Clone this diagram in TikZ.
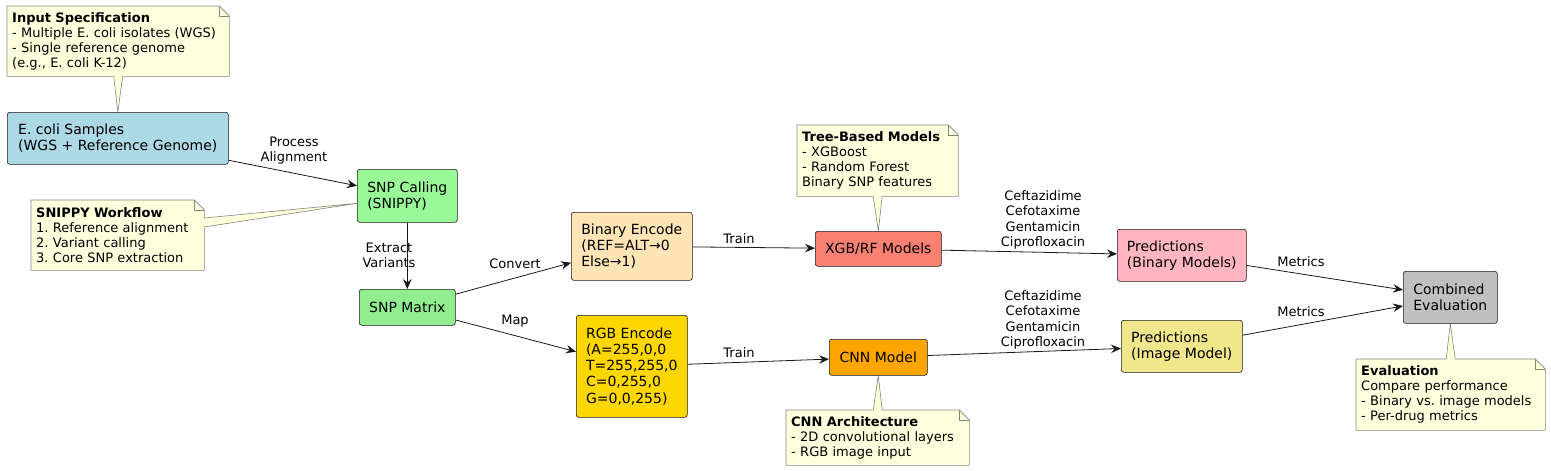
\documentclass[tikz,border=0pt]{standalone}
\usepackage{fontspec}
\setmainfont{DejaVu Sans}
\usetikzlibrary{arrows.meta,backgrounds}
\frenchspacing

\definecolor{linec}{HTML}{181818}
\definecolor{notefill}{HTML}{FEFFDD}
\definecolor{notedraw}{HTML}{85857A}
\definecolor{boxblue}{HTML}{ADD8E6}
\definecolor{boxpalegreen}{HTML}{98FB98}
\definecolor{boxgreen}{HTML}{90EE90}
\definecolor{boxmoccasin}{HTML}{FFE4B5}
\definecolor{boxsalmon}{HTML}{FA8072}
\definecolor{boxgold}{HTML}{FFD700}
\definecolor{boxorange}{HTML}{FFA500}
\definecolor{boxpink}{HTML}{FFB6C1}
\definecolor{boxkhaki}{HTML}{F0E68C}
\definecolor{boxsilver}{HTML}{C0C0C0}

\tikzset{
  box/.style={draw=linec, line width=0.6pt, rounded corners=2.5pt, align=left,
    anchor=north west, inner sep=0pt, font=\fontsize{14}{16.3}\selectfont},
  notebox/.style={anchor=north west, align=left, inner xsep=5pt, inner ysep=0pt,
    font=\fontsize{13}{15}\selectfont},
  noteshape/.style={draw=notedraw, fill=notefill, line width=0.6pt},
  lbl/.style={align=center, inner sep=0pt, font=\fontsize{13}{15.2}\selectfont},
  flow/.style={draw=linec, line width=0.8pt, -{Stealth[length=10pt,width=8.5pt,inset=3.5pt]}}
}

\begin{document}
\begin{tikzpicture}[x=1pt, y=-1pt]
  \useasboundingbox (0,0) rectangle (1551,471);

  % process boxes
  \node[box, fill=boxblue, minimum width=221pt, minimum height=52pt] (ecoli) at (7,112) {E. coli Samples\\(WGS + Reference Genome)};
  \node[box, fill=boxpalegreen, minimum width=100pt, minimum height=53pt] (snpcall) at (357,169) {SNP Calling\\(SNIPPY)};
  \node[box, fill=boxgreen, minimum width=96pt, minimum height=36pt] (snpmat) at (359,289) {SNP Matrix};
  \node[box, fill=boxmoccasin, minimum width=121pt, minimum height=68pt] (binenc) at (571,212) {Binary Encode\\(REF=ALT→0\\Else→1)};
  \node[box, fill=boxgold, minimum width=111pt, minimum height=102pt] (rgbenc) at (576,315) {RGB Encode\\(A=255,0,0\\T=255,255,0\\C=0,255,0\\G=0,0,255)};
  \node[box, fill=boxsalmon, minimum width=126pt, minimum height=35pt] (xgb) at (815,231) {XGB/RF Models};
  \node[box, fill=boxorange, minimum width=98pt, minimum height=36pt] (cnn) at (829,339) {CNN Model};
  \node[box, fill=boxpink, minimum width=129pt, minimum height=52pt] (predbin) at (1117,229) {Predictions\\(Binary Models)};
  \node[box, fill=boxkhaki, minimum width=121pt, minimum height=52pt] (predimg) at (1121,320) {Predictions\\(Image Model)};
  \node[box, fill=boxsilver, minimum width=94pt, minimum height=52pt] (combined) at (1403,271) {Combined\\Evaluation};

  % notes
  \node[notebox, text width=212pt, minimum height=70pt] (inspec) at (7,6) {\textbf{Input Specification}\\- Multiple E. coli isolates (WGS)\\- Single reference genome\\(e.g., E. coli K-12)};
  \node[notebox, text width=163pt, minimum height=70pt] (snippy) at (31,200) {\textbf{SNIPPY Workflow}\\1. Reference alignment\\2. Variant calling\\3. Core SNP extraction};
  \node[notebox, text width=151pt, minimum height=71pt] (treenote) at (797,125) {\textbf{Tree-Based Models}\\- XGBoost\\- Random Forest\\Binary SNP features};
  \node[notebox, text width=173pt, minimum height=55pt] (cnnnote) at (786,410) {\textbf{CNN Architecture}\\- 2D convolutional layers\\- RGB image input};
  \node[notebox, text width=179pt, minimum height=71pt] (evalnote) at (1356,359) {\textbf{Evaluation}\\Compare performance\\- Binary vs. image models\\- Per-drug metrics};

  \begin{scope}[on background layer]
    \draw[noteshape] (inspec.north west) -- ([xshift=-10pt]inspec.north east) -- ([yshift=-10pt]inspec.north east) -- (inspec.south east)
      -- ([xshift=4.5pt]inspec.south) -- (ecoli.north) -- ([xshift=-4.5pt]inspec.south) -- (inspec.south west) -- cycle;
    \draw[noteshape] (snippy.north west) -- ([xshift=-10pt]snippy.north east) -- ([yshift=-10pt]snippy.north east)
      -- ([yshift=-18pt]snippy.north east) -- ([yshift=-7.5pt]snpcall.west) -- ([yshift=-27pt]snippy.north east)
      -- (snippy.south east) -- (snippy.south west) -- cycle;
    \draw[noteshape] (treenote.north west) -- ([xshift=-10pt]treenote.north east) -- ([yshift=-10pt]treenote.north east) -- (treenote.south east)
      -- ([xshift=4.5pt]treenote.south) -- (xgb.north) -- ([xshift=-4.5pt]treenote.south) -- (treenote.south west) -- cycle;
    \draw[noteshape] (cnnnote.north west) -- ([xshift=-4.5pt]cnnnote.north) -- (cnn.south) -- ([xshift=4.5pt]cnnnote.north)
      -- ([xshift=-10pt]cnnnote.north east) -- ([yshift=-10pt]cnnnote.north east) -- (cnnnote.south east) -- (cnnnote.south west) -- cycle;
    \draw[noteshape] (evalnote.north west) -- ([xshift=-4.5pt]evalnote.north) -- (combined.south) -- ([xshift=4.5pt]evalnote.north)
      -- ([xshift=-10pt]evalnote.north east) -- ([yshift=-10pt]evalnote.north east) -- (evalnote.south east) -- (evalnote.south west) -- cycle;
  \end{scope}
  \foreach \n in {inspec,snippy,treenote,cnnnote,evalnote}
    \draw[draw=notedraw, line width=0.6pt] ([xshift=-10pt]\n.north east) |- ([yshift=-10pt]\n.north east);

  % connectors
  \draw[flow] (ecoli) -- (snpcall);
  \draw[flow] (snpcall) -- (snpmat);
  \draw[flow] (snpmat) -- (binenc);
  \draw[flow] (snpmat) -- (rgbenc);
  \draw[flow] (binenc) -- (xgb);
  \draw[flow] (rgbenc) -- (cnn);
  \draw[flow] (xgb) -- (predbin);
  \draw[flow] (cnn) -- (predimg);
  \draw[flow] (predbin) -- (combined);
  \draw[flow] (predimg) -- (combined);

  % connector labels
  \node[lbl] (lprocess) at (294,151) {Process\\Alignment};
  \node[lbl] (lextract) at (389,255.5) {Extract\\Variants};
  \node[lbl] (lconvert) at (515,264) {Convert};
  \node[lbl] (lmap) at (515,321) {Map};
  \node[lbl] (ltrainbin) at (739,239) {Train};
  \node[lbl] (ltrainrgb) at (739,353) {Train};
  \node[lbl] (ldrugbin) at (1043,220) {Ceftazidime\\Cefotaxime\\Gentamicin\\Ciprofloxacin};
  \node[lbl] (ldrugimg) at (1043,320) {Ceftazidime\\Cefotaxime\\Gentamicin\\Ciprofloxacin};
  \node[lbl] (lmetbin) at (1301,262) {Metrics};
  \node[lbl] (lmetimg) at (1301,312) {Metrics};
\end{tikzpicture}
\end{document}
